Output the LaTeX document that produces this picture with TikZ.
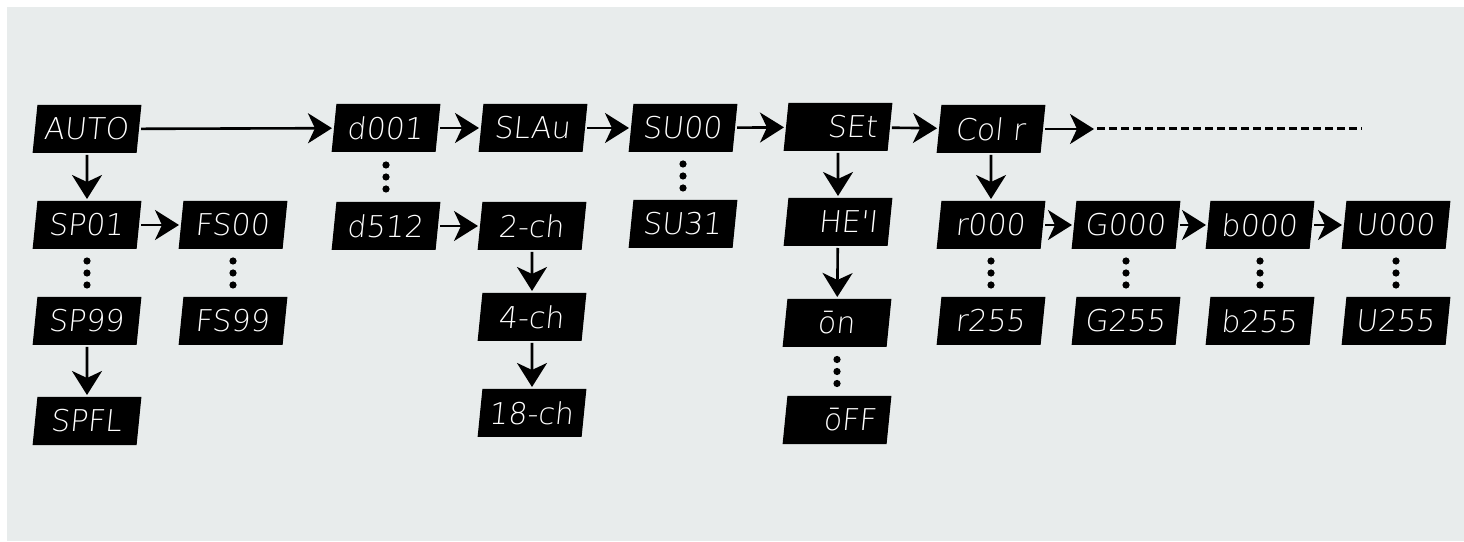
\documentclass[tikz,border=0pt]{standalone}
\usepackage{fontspec}
\newfontfamily\segfont{DejaVu Sans ExtraLight}
\usetikzlibrary{arrows.meta,calc}
\definecolor{panelgray}{HTML}{E8ECEC}
\tikzset{
  disp/.style={fill=black, text=white, xslant=0.1, minimum width=104pt, minimum height=48pt,
    inner sep=0pt, outer sep=2pt, font=\segfont\fontsize{30}{30}\selectfont},
  dispright/.style={disp, text width=80pt, align=right},
  flow/.style={line width=2.6pt, -{Stealth[length=24pt,width=30pt,inset=7pt]}},
}
% three dots half way between two displays
\newcommand{\dotcol}[2]{%
  \path (#1) -- coordinate[midway] (mid) (#2);
  \foreach \d in {-12,0,12} \fill ($(mid)+(0,\d)$) circle (3.6pt);
}
\begin{document}
\begin{tikzpicture}[x=1pt,y=1pt]
    \useasboundingbox (0,0) rectangle (1464,541);
    \fill[white] (0,0) rectangle (1464,541);
    \fill[panelgray] (7,0) rectangle (1464,534);
    % top row
    \node[disp] (auto) at (87,412) {AUTO};
    \node[disp] (d001) at (386,413) {d001};
    \node[disp] (slav) at (533,413) {SLAu};
    \node[disp] (su00) at (683,413) {SU00};
    \node[dispright] (set) at (838,414) {SEt};
    \node[disp] (colr) at (991,412) {Col r};
    \coordinate (more) at (1094,412);
    \coordinate (dashend) at (1362,412);
    % second row
    \node[disp] (sp01) at (87,316) {SP01};
    \node[disp] (fs00) at (233,316) {FS00};
    \node[disp] (d512) at (386,315) {d512};
    \node[disp] (ch2) at (532,315) {2-ch};
    \node[disp] (su31) at (683,317) {SU31};
    \node[dispright] (heat) at (838,319) {HE'I};
    \node[disp] (r000) at (991,316) {r000};
    \node[disp] (g000) at (1126,316) {G000};
    \node[disp] (b000) at (1260,316) {b000};
    \node[disp] (w000) at (1396,316) {U000};
    % third row
    \node[disp] (sp99) at (87,220) {SP99};
    \node[disp] (fs99) at (233,220) {FS99};
    \node[disp] (ch4) at (532,224) {4-ch};
    \node[disp] (on) at (837,218) {ōn};
    \node[disp] (r255) at (991,220) {r255};
    \node[disp] (g255) at (1126,220) {G255};
    \node[disp] (b255) at (1260,220) {b255};
    \node[disp] (w255) at (1396,220) {U255};
    % fourth row
    \node[disp] (spfl) at (87,120) {SPFL};
    \node[disp] (ch18) at (532,128) {18-ch};
    \node[dispright] (off) at (837,121) {ōFF};
    % arrows
    \draw[flow] (auto) -- (d001);
    \draw[flow] (d001) -- (slav);
    \draw[flow] (slav) -- (su00);
    \draw[flow] (su00) -- (set);
    \draw[flow] (set) -- (colr);
    \draw[flow] (colr) -- (more);
    \draw[line width=3pt, dash pattern=on 8pt off 4pt] (more) ++(3,0) -- (dashend);
    \draw[flow] (auto) -- (sp01);
    \draw[flow] (sp01) -- (fs00);
    \draw[flow] (sp99) -- (spfl);
    \draw[flow] (d512) -- (ch2);
    \draw[flow] (ch2) -- (ch4);
    \draw[flow] (ch4) -- (ch18);
    \draw[flow] (set) -- (heat);
    \draw[flow] (heat) -- (on);
    \draw[flow] (colr) -- (r000);
    \draw[flow] (r000) -- (g000);
    \draw[flow] (g000) -- (b000);
    \draw[flow] (b000) -- (w000);
    % dots
    \dotcol{sp01}{sp99}
    \dotcol{fs00}{fs99}
    \dotcol{d001}{d512}
    \dotcol{su00}{su31}
    \dotcol{on}{off}
    \dotcol{r000}{r255}
    \dotcol{g000}{g255}
    \dotcol{b000}{b255}
    \dotcol{w000}{w255}
\end{tikzpicture}
\end{document}
